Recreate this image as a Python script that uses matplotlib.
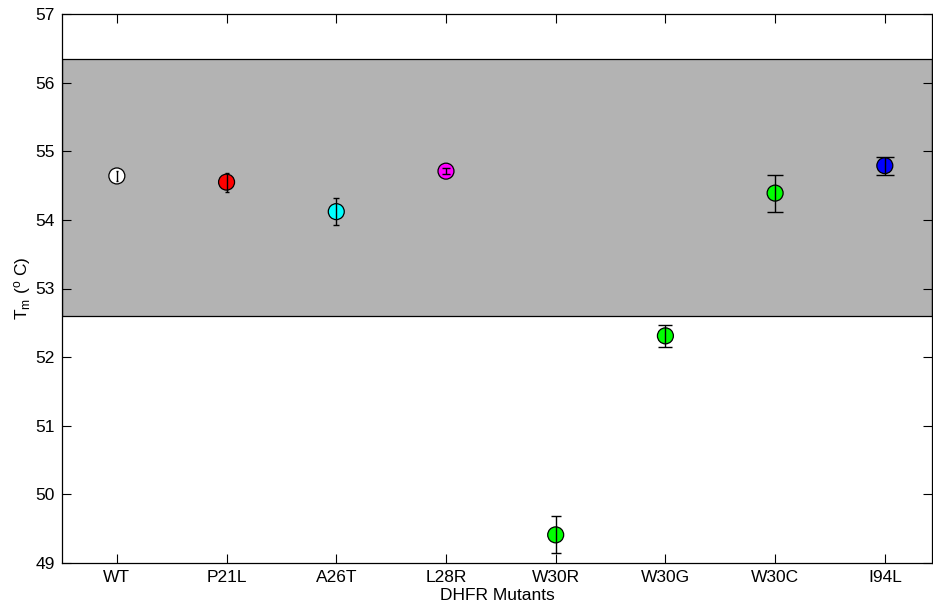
import matplotlib
matplotlib.use('Agg')
import matplotlib.pyplot as plt

# melting temperatures of DHFR variants
mutants = ['WT', 'P21L', 'A26T', 'L28R', 'W30R', 'W30G', 'W30C', 'I94L']
tm = [54.64, 54.55, 54.12, 54.71, 49.41, 52.31, 54.39, 54.79]
tm_err = [0.07, 0.14, 0.20, 0.04, 0.27, 0.16, 0.27, 0.13]
colors = ['#ffffff', '#ff0000', '#00ffff', '#ff00ff',
          '#00ff00', '#00ff00', '#00ff00', '#0000ff']
band_low, band_high = 52.60, 56.34

plt.rcParams.update({
    'font.family': ['Liberation Sans', 'DejaVu Sans'],
    'font.size': 12.5,
    'mathtext.fontset': 'custom',
    'mathtext.rm': 'Liberation Sans',
    'mathtext.it': 'Liberation Sans',
})

fig = plt.figure(figsize=(9.33, 6.08), dpi=100)
ax = fig.add_axes([62 / 933, 45 / 608, 870 / 933, 549 / 608])

ax.axhspan(band_low, band_high, facecolor='#b3b3b3', edgecolor='black',
           linewidth=0.9, zorder=0)

x = list(range(1, len(mutants) + 1))
ax.scatter(x, tm, s=11.5 ** 2, c=colors, edgecolors='black',
           linewidths=0.9, zorder=2)

# each point gets its own errorbar call; the tee half-width is x/100 in
# data units, so the caps widen from left to right
xlim = (0.5, 8.43)
pts_per_unit = 870 / (xlim[1] - xlim[0]) * 0.72
for xi, yi, ei in zip(x, tm, tm_err):
    ax.errorbar(xi, yi, yerr=ei, fmt='none', ecolor='black',
                elinewidth=1.0, capsize=xi / 100 * pts_per_unit,
                capthick=1.0, zorder=3)

ax.set_xlim(*xlim)
ax.set_ylim(49, 57)
ax.set_xticks(x)
ax.set_xticklabels(mutants)
ax.set_yticks(range(49, 58))
ax.tick_params(direction='in', length=6.5, width=0.8, top=True, right=True,
               pad=5)
for spine in ax.spines.values():
    spine.set_linewidth(0.9)

ax.set_xlabel('DHFR Mutants', labelpad=2)
ax.set_ylabel(r'T$_{\rm m}$ ($^{\rm o}$ C)', labelpad=2)

fig.savefig('out.png', dpi=100)
